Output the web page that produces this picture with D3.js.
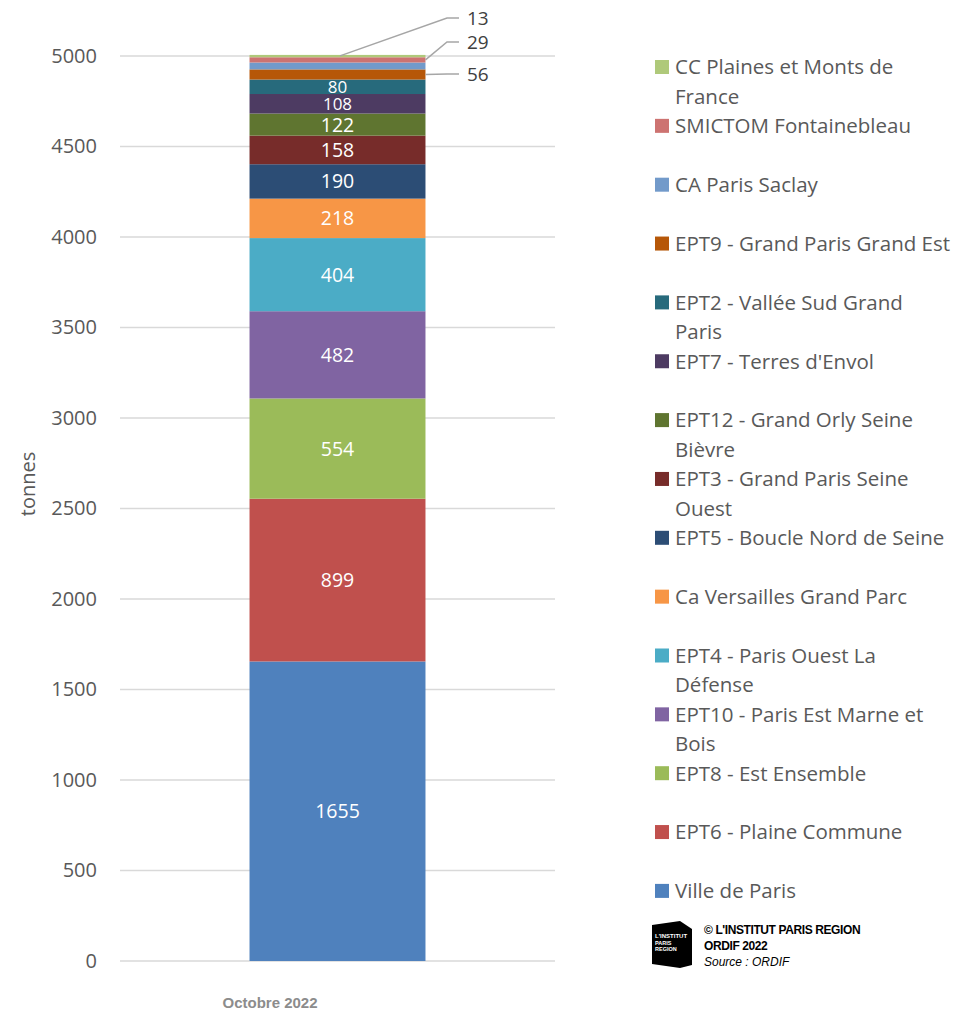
<!DOCTYPE html>
<html>
<head>
<meta charset="utf-8">
<script src="https://cdn.jsdelivr.net/npm/d3@7"></script>
<style>
  body { margin: 0; background: #fff; }
  text { font-family: "Open Sans", sans-serif; }
</style>
</head>
<body>
<div id="chart"></div>
<script>
// stacking order, bottom to top
const series = [
  "Ville de Paris",
  "EPT6 - Plaine Commune",
  "EPT8 - Est Ensemble",
  "EPT10 - Paris Est Marne et Bois",
  "EPT4 - Paris Ouest La Défense",
  "Ca Versailles Grand Parc",
  "EPT5 - Boucle Nord de Seine",
  "EPT3 - Grand Paris Seine Ouest",
  "EPT12 - Grand Orly Seine Bièvre",
  "EPT7 - Terres d'Envol",
  "EPT2 - Vallée Sud Grand Paris",
  "EPT9 - Grand Paris Grand Est",
  "CA Paris Saclay",
  "SMICTOM Fontainebleau",
  "CC Plaines et Monts de France"
];
// legend wraps like the original
const legendLines = [
  ["Ville de Paris"],
  ["EPT6 - Plaine Commune"],
  ["EPT8 - Est Ensemble"],
  ["EPT10 - Paris Est Marne et", "Bois"],
  ["EPT4 - Paris Ouest La", "Défense"],
  ["Ca Versailles Grand Parc"],
  ["EPT5 - Boucle Nord de Seine"],
  ["EPT3 - Grand Paris Seine", "Ouest"],
  ["EPT12 - Grand Orly Seine", "Bièvre"],
  ["EPT7 - Terres d'Envol"],
  ["EPT2 - Vallée Sud Grand", "Paris"],
  ["EPT9 - Grand Paris Grand Est"],
  ["CA Paris Saclay"],
  ["SMICTOM Fontainebleau"],
  ["CC Plaines et Monts de", "France"]
];
const values = [1655, 899, 554, 482, 404, 218, 190, 158, 122, 108, 80, 56, 38, 29, 13];
// CA Paris Saclay has no label in the original
const showLabel = [true, true, true, true, true, true, true, true, true, true, true, true, false, true, true];
const colors = ["#4f81bd", "#c0504d", "#9bbb59", "#8064a2", "#4bacc6", "#f79646", "#2c4d75",
  "#772c2a", "#5f7530", "#4d3b62", "#276a7c", "#b65708", "#729aca", "#cd7371", "#afc97a"];
const category = "Octobre 2022";
const yTicks = [0, 500, 1000, 1500, 2000, 2500, 3000, 3500, 4000, 4500, 5000];

const W = 955, H = 1013;
const plot = {left: 120, right: 555, top: 56, bottom: 961};

const svg = d3.select("#chart").append("svg")
  .attr("width", W)
  .attr("height", H);

const y = d3.scaleLinear().domain([0, 5000]).range([plot.bottom, plot.top]);
const x = d3.scaleBand().domain([category]).range([plot.left, plot.right]).padding(0.424);

// gridlines
svg.append("g")
  .selectAll("line")
  .data(yTicks)
  .join("line")
    .attr("x1", plot.left)
    .attr("x2", plot.right)
    .attr("y1", d => y(d))
    .attr("y2", d => y(d))
    .attr("stroke", "#d9d9d9")
    .attr("stroke-width", 1.3);

// y axis labels
const yAxis = svg.append("g")
  .attr("transform", `translate(${plot.left},0)`)
  .call(d3.axisLeft(y).tickValues(yTicks).tickFormat(d3.format("d")).tickSize(0).tickPadding(23));
yAxis.select(".domain").remove();
yAxis.selectAll("text")
  .attr("fill", "#595959")
  .style("font-size", "20px")
  .style("font-family", "'Open Sans', sans-serif");

svg.append("text")
  .attr("transform", "rotate(-90)")
  .attr("x", -484)
  .attr("y", 35)
  .attr("text-anchor", "middle")
  .attr("fill", "#595959")
  .style("font-size", "20px")
  .text("tonnes");

// stacked segments
let acc = 0;
const segs = values.map((v, i) => {
  const s = {name: series[i], v, y0: acc, y1: acc + v, color: colors[i], label: showLabel[i]};
  acc += v;
  return s;
});

svg.append("g")
  .selectAll("rect")
  .data(segs)
  .join("rect")
    .attr("x", x(category))
    .attr("width", x.bandwidth())
    .attr("y", d => y(d.y1))
    .attr("height", d => y(d.y0) - y(d.y1))
    .attr("fill", d => d.color);

// labels inside big enough segments
const inside = segs.filter(d => d.label && d.v >= 80);
svg.append("g")
  .selectAll("text")
  .data(inside)
  .join("text")
    .attr("x", x(category) + x.bandwidth() / 2)
    .attr("y", d => y((d.y0 + d.y1) / 2))
    .attr("dy", "0.36em")
    .attr("text-anchor", "middle")
    .attr("fill", "#fff")
    .style("font-size", d => d.v < 120 ? "17px" : "19.5px")
    .text(d => d.v);

// callout labels for the thin top segments
const barRight = x(category) + x.bandwidth();
const callouts = [
  {seg: segs[14], from: [340, y(segs[14].y1) + 1], elbow: 447, ly: 18},
  {seg: segs[13], from: [barRight, y((segs[13].y0 + segs[13].y1) / 2)], elbow: 447, ly: 42},
  {seg: segs[11], from: [barRight, y((segs[11].y0 + segs[11].y1) / 2)], elbow: 447, ly: 74}
];
callouts.forEach(c => {
  svg.append("polyline")
    .attr("points", `${c.from[0]},${c.from[1]} ${c.elbow},${c.ly} ${c.elbow + 12},${c.ly}`)
    .attr("fill", "none")
    .attr("stroke", "#a6a6a6")
    .attr("stroke-width", 1.5);
  svg.append("text")
    .attr("x", c.elbow + 20)
    .attr("y", c.ly)
    .attr("dy", "0.36em")
    .attr("fill", "#404040")
    .style("font-size", "19px")
    .text(c.seg.v);
});

// category label
svg.append("text")
  .attr("x", 270)
  .attr("y", 1008)
  .attr("text-anchor", "middle")
  .attr("fill", "#8c8c8c")
  .style("font-size", "15px")
  .style("font-weight", "bold")
  .style("font-family", "'Liberation Sans', Arial, sans-serif")
  .text(category);

// legend, top of stack first
const legend = svg.append("g");
const order = d3.range(series.length).reverse();
order.forEach((si, k) => {
  const cy = 67 + k * 58.85;
  const g = legend.append("g");
  g.append("rect")
    .attr("x", 655)
    .attr("y", cy - 7)
    .attr("width", 14)
    .attr("height", 14)
    .attr("fill", colors[si]);
  legendLines[si].forEach((line, li) => {
    g.append("text")
      .attr("x", 675)
      .attr("y", cy + li * 29.5)
      .attr("dy", "0.36em")
      .attr("fill", "#595959")
      .style("font-size", "20.5px")
      .text(line);
  });
});

// source block
const logo = svg.append("g").attr("transform", "translate(650,921)");
logo.append("path")
  .attr("d", "M2,4 L30,0 L42,8 L42,44 L30,47 L2,43 Z")
  .attr("fill", "#000");
["L'INSTITUT", "PARIS", "REGION"].forEach((t, i) => {
  logo.append("text")
    .attr("x", 5)
    .attr("y", 17 + i * 6.5)
    .attr("fill", "#fff")
    .style("font-size", i === 0 ? "6px" : "5.5px")
    .style("font-weight", "bold")
    .style("font-family", "'Liberation Sans Narrow', 'Liberation Sans', Arial, sans-serif")
    .text(t);
});
const src = [
  {t: "© L'INSTITUT PARIS REGION", w: "bold", s: "normal"},
  {t: "ORDIF 2022", w: "bold", s: "normal"},
  {t: "Source : ORDIF", w: "normal", s: "italic"}
];
src.forEach((d, i) => {
  svg.append("text")
    .attr("x", 704)
    .attr("y", 934 + i * 16)
    .attr("fill", "#000")
    .style("font-size", "12px")
    .style("font-weight", d.w)
    .style("font-style", d.s)
    .style("font-family", "'Liberation Sans', Arial, sans-serif")
    .style("letter-spacing", d.w === "bold" ? "-0.4px" : "0")
    .text(d.t);
});
</script>
</body>
</html>
